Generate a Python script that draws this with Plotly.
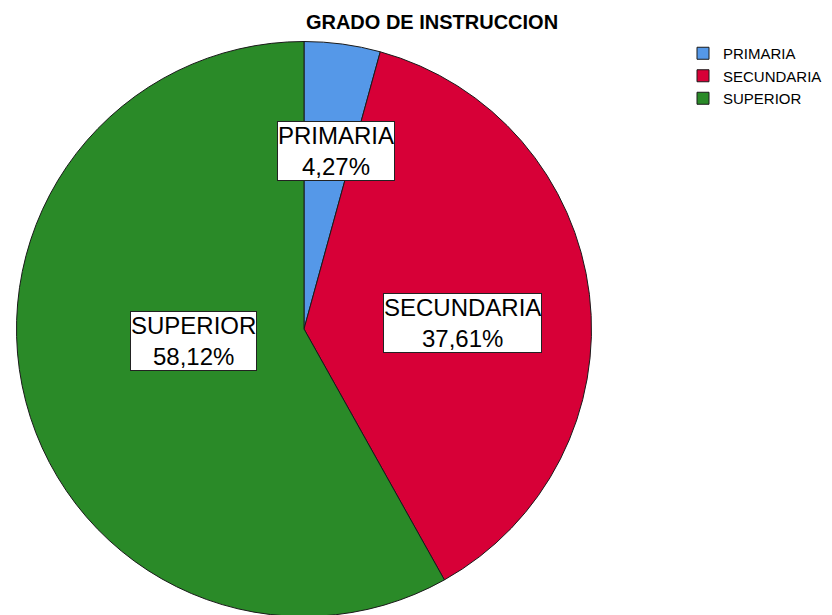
import numpy as np
import plotly.graph_objects as go

# data: counts per category (117 in total)
categories = ["PRIMARIA", "SECUNDARIA", "SUPERIOR"]
counts = [5, 44, 68]

colors = ["#5598E8", "#D70037", "#2A8A28"]
# where the boxed labels sit: share of the radius and a small turn off the mid angle
label_radius = [0.65, 0.53, 0.41]
label_turn_deg = [0, 2, 12]

W, H = 832, 615
R = 287.5
cx, cy = 303, 328          # wanted pie centre on the page
nudge = 7                  # plotly draws the pie a few px right/down of its domain centre
dom_cx, dom_cy = cx - nudge, cy - nudge

fig = go.Figure(go.Pie(
    labels=categories, values=counts, sort=False, direction="clockwise",
    marker=dict(colors=colors, line=dict(color="#1a1a1a", width=1)),
    textinfo="none", textposition="inside", hoverinfo="label+percent",
    domain=dict(x=[(dom_cx - R) / W, (dom_cx + R) / W],
                y=[1 - (dom_cy + R) / H, 1 - (dom_cy - R) / H]),
))

# boxed labels placed near the mid angle of each slice
vals = np.array(counts, dtype=float)
shares = vals / vals.sum()
mids = (np.cumsum(shares) - shares / 2) * 2 * np.pi + np.radians(label_turn_deg)
for name, share, ang, f in zip(categories, shares, mids, label_radius):
    px_x = cx + f * R * np.sin(ang)
    px_y = cy - f * R * np.cos(ang)
    pct = f"{share * 100:.2f}".replace(".", ",") + "%"
    fig.add_annotation(
        x=px_x / W, y=1 - px_y / H, xref="paper", yref="paper",
        xanchor="center", yanchor="middle",
        text=f"{name}<br>{pct}", showarrow=False,
        font=dict(family="Liberation Sans, Arial", size=24, color="black"),
        bgcolor="white", bordercolor="#222", borderwidth=1, borderpad=0,
    )

fig.update_layout(
    width=W, height=H,
    margin=dict(l=0, r=0, t=0, b=0),
    paper_bgcolor="white", plot_bgcolor="white",
    title=dict(text="<b>GRADO DE INSTRUCCION</b>", x=424 / W, xanchor="center",
               y=1 - 14 / H, yanchor="middle",
               font=dict(family="Liberation Sans, Arial", size=20, color="black")),
    legend=dict(x=675 / W, y=1 - 29 / H, xanchor="left", yanchor="top",
                font=dict(family="Liberation Sans, Arial", size=15, color="black"),
                itemwidth=30, tracegroupgap=0),
    showlegend=True,
)

fig.write_html("out.html")
